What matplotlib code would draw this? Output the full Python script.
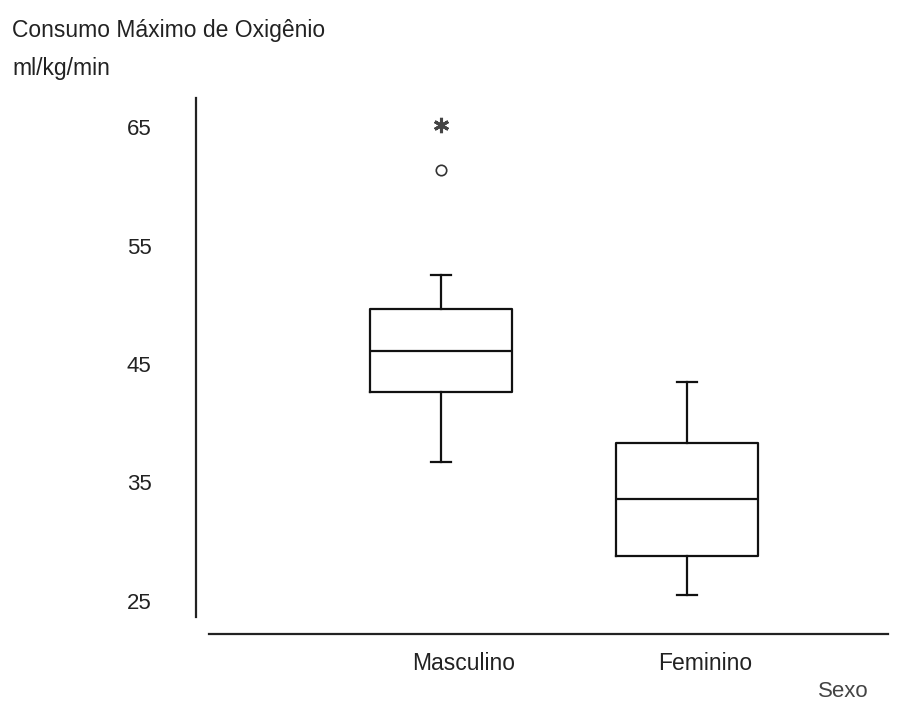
import matplotlib
matplotlib.use("Agg")
import matplotlib.pyplot as plt
from matplotlib.transforms import blended_transform_factory

plt.rcParams['font.family'] = ['Liberation Sans', 'DejaVu Sans']

categories = ["Masculino", "Feminino"]
whisker_low = [36.7, 25.5]
q1 = [42.6, 28.8]
median = [46.1, 33.6]
q3 = [49.6, 38.3]
whisker_high = [52.5, 43.5]
outliers_circle = [[61.4], []]
outliers_extreme = [[65.2], []]
yticks = [25, 35, 45, 55, 65]

W, H = 902, 701
fig = plt.figure(figsize=(W / 100, H / 100), dpi=100)
# axes in pixel coordinates: x 196..888, y 98..634
ax = fig.add_axes([196 / W, 1 - 634 / H, (888 - 196) / W, (634 - 98) / H])

ppu = (601 - 127) / 40.0  # px per unit
ax.set_ylim(25 - (634 - 601) / ppu, 65 + (127 - 98) / ppu)
pos = [1, 2]
pxu = 687 - 441
ax.set_xlim(1 - (441 - 196) / pxu, 2 + (888 - 687) / pxu)

stats = []
for i, c in enumerate(categories):
    stats.append(dict(label=c, whislo=whisker_low[i], q1=q1[i], med=median[i],
                      q3=q3[i], whishi=whisker_high[i], fliers=[]))
lw = 1.6
ax.bxp(stats, positions=pos, widths=142 / pxu, capwidths=20 / pxu, showfliers=False,
       boxprops=dict(color='#111111', lw=lw), medianprops=dict(color='#111111', lw=lw),
       whiskerprops=dict(color='#111111', lw=lw), capprops=dict(color='#111111', lw=lw))

for i, p in enumerate(pos):
    if outliers_circle[i]:
        ax.plot([p] * len(outliers_circle[i]), outliers_circle[i], 'o', ms=7.5,
                mfc='white', mec='#333333', mew=1.2, clip_on=False)
    if outliers_extreme[i]:
        ax.plot([p] * len(outliers_extreme[i]), outliers_extreme[i], ls='none',
                marker=(6, 2, 0), ms=11, mew=2.2, mec='#444444', clip_on=False)

for s in ['top', 'right']:
    ax.spines[s].set_visible(False)
ax.spines['left'].set_bounds(25 - (617 - 601) / ppu, ax.get_ylim()[1])
ax.spines['bottom'].set_bounds(1 - (441 - 209) / pxu, ax.get_xlim()[1])
ax.spines['left'].set_linewidth(1.6)
ax.spines['bottom'].set_linewidth(1.6)
ax.spines['left'].set_color('#222222')
ax.spines['bottom'].set_color('#222222')

ax.set_yticks(yticks)
ax.set_yticklabels([str(t) for t in yticks], va='center_baseline')
ax.tick_params(axis='y', length=0, pad=32, labelsize=16, labelcolor='#222222')
ax.set_xticks([])

trans = blended_transform_factory(ax.transData, fig.transFigure)
for i, c in enumerate(categories):
    ax.text(pos[i] - 29 / pxu, 1 - 663 / H, c, transform=trans, ha='left', va='center',
            fontsize=16.5, color='#222222')

fig.text(818 / W, 1 - 697 / H, "Sexo", ha='left', va='baseline', fontsize=16, color='#444444')
fig.text(12 / W, 1 - 30 / H, "Consumo Máximo de Oxigênio", ha='left', va='center',
         fontsize=16.5, color='#222222')
fig.text(12 / W, 1 - 69 / H, "ml/kg/min", ha='left', va='center', fontsize=16.5, color='#222222')

fig.savefig("out.png", dpi=100)
